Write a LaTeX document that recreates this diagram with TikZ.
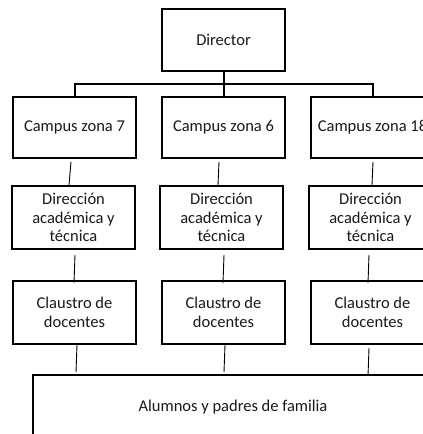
\documentclass[tikz,border=0pt]{standalone}
\usepackage{fontspec}
\setmainfont{Carlito}
\begin{document}
\begin{tikzpicture}[x=1pt,y=-1pt,
  box/.style={draw=black,line width=1.8pt,minimum width=123pt,inner sep=0pt,align=center,
    font=\fontsize{16.5}{18.5}\selectfont,text=black!90},
  thin/.style={draw=black,line width=0.9pt},
  bus/.style={draw=black,line width=2pt}]
\useasboundingbox (0,0) rectangle (423,434);
\clip (0,0) rectangle (423,434);
% top
\node[box,minimum height=62pt] (dir) at (223.5,40) {Director};
\node[box,minimum height=61pt] (c1) at (74.5,127.5) {Campus zona 7};
\node[box,minimum height=61pt] (c2) at (223.5,127.5) {Campus zona 6};
\node[box,minimum height=61pt] (c3) at (372.5,127.5) {Campus zona 18};
% direccion
\node[box,minimum height=63pt] (d1) at (73.5,217.5) {Dirección\\académica y\\técnica};
\node[box,minimum height=63pt] (d2) at (221.5,217.5) {Dirección\\académica y\\técnica};
\node[box,minimum height=63pt] (d3) at (370.5,217.5) {Dirección\\académica y\\técnica};
% claustro
\node[box,minimum height=63pt] (k1) at (74.5,312.5) {Claustro de\\docentes};
\node[box,minimum height=63pt] (k2) at (223.5,312.5) {Claustro de\\docentes};
\node[box,minimum height=63pt] (k3) at (372.5,312.5) {Claustro de\\docentes};
% alumnos
\node[box,minimum width=400pt,minimum height=64pt] (al) at (233,407) {Alumnos y padres de familia};
% bus
\coordinate (bus) at (223.5,84);
\draw[bus] (dir.south) -- (bus);
\draw[bus] (c1.north) |- (bus) -| (c3.north);
\draw[bus] (c2.north) -- (bus);
% campus -> direccion
\draw[thin] ([xshift=-3.5pt,yshift=-3pt]c1.south) -- ([xshift=-4.5pt]d1.north);
\draw[thin] ([xshift=-4.5pt,yshift=-3pt]c2.south) -- ([xshift=-3.5pt]d2.north);
\draw[thin] ([xshift=0.5pt,yshift=-3pt]c3.south) -- ([xshift=1.5pt]d3.north);
% direccion -> claustro
\draw[thin] ([xshift=1.5pt,yshift=-5pt]d1.south) -- ([xshift=-0.5pt,yshift=-3pt]k1.north);
\draw[thin] ([xshift=2.5pt,yshift=-5pt]d2.south) -- ([xshift=-0.5pt,yshift=-3pt]k2.north);
\draw[thin] ([xshift=-1.5pt,yshift=-5pt]d3.south) -- ([xshift=-4.5pt,yshift=-3pt]k3.north);
% claustro -> alumnos
\draw[thin] ([xshift=2.5pt]k1.south) -- ([xshift=-157pt,yshift=2pt]al.north);
\draw[thin] ([xshift=1.5pt]k2.south) -- ([xshift=-9pt,yshift=2pt]al.north);
\draw[thin] ([xshift=-3.5pt,yshift=-3pt]k3.south) -- ([xshift=135pt,yshift=-2pt]al.north);
\end{tikzpicture}
\end{document}
